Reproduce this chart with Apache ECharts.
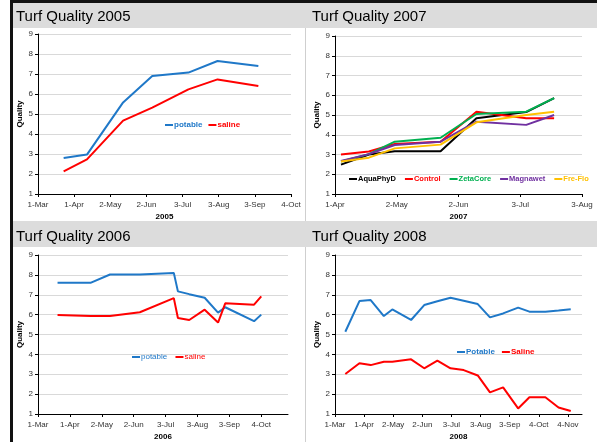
<!DOCTYPE html>
<html>
<head>
<meta charset="utf-8">
<script src="https://cdn.jsdelivr.net/npm/echarts@6/dist/echarts.min.js"></script>
<style>
html,body{margin:0;padding:0;background:#fff;}
#c{width:597px;height:442px;}
</style>
</head>
<body>
<div id="c"></div>
<script>
// ---------- data ----------
const ticks2005 = ['1-Mar','1-Apr','2-May','2-Jun','3-Jul','3-Aug','3-Sep','4-Oct'];
const dates2005 = ['2005-03-23','2005-04-12','2005-05-13','2005-06-07','2005-07-08','2005-08-02','2005-09-06'];
const potable2005 = [2.8, 2.97, 5.58, 6.9, 7.07, 7.65, 7.4];
const saline2005 = [2.13, 2.73, 4.67, 5.32, 6.23, 6.73, 6.4];

const ticks2007 = ['1-Apr','2-May','2-Jun','3-Jul','3-Aug'];
const dates2007 = ['2007-04-04','2007-04-18','2007-05-01','2007-05-24','2007-06-11','2007-07-06','2007-07-20'];
const aquaphyd2007 = [2.49, 3.0, 3.16, 3.16, 4.83, 5.15, 5.85];
const control2007 = [3.0, 3.15, 3.53, 3.65, 5.17, 4.83, 4.83];
const zetacore2007 = [2.65, 3.02, 3.65, 3.85, 5.05, 5.17, 5.85];
const magnawet2007 = [2.67, 3.02, 3.48, 3.65, 4.66, 4.5, 5.0];
const freflo2007 = [2.65, 2.84, 3.31, 3.5, 4.63, 5.0, 5.17];

const ticks2006 = ['1-Mar','1-Apr','2-May','2-Jun','3-Jul','3-Aug','3-Sep','4-Oct'];
const dates2006 = ['2006-03-20','2006-04-21','2006-05-10','2006-06-08','2006-07-11','2006-07-15','2006-07-26','2006-08-10','2006-08-23','2006-08-30','2006-09-27','2006-10-04'];
const potable2006 = [7.6, 7.6, 8.02, 8.02, 8.1, 7.17, 7.03, 6.85, 6.1, 6.37, 5.67, 6.0];
const saline2006 = [5.98, 5.93, 5.93, 6.12, 6.83, 5.83, 5.73, 6.25, 5.6, 6.57, 6.5, 6.92];

const ticks2008 = ['1-Mar','1-Apr','2-May','2-Jun','3-Jul','3-Aug','3-Sep','4-Oct','4-Nov'];
const dates2008 = ['2008-03-12','2008-03-27','2008-04-08','2008-04-22','2008-05-01','2008-05-21','2008-06-04','2008-06-18','2008-07-02','2008-07-16','2008-07-31','2008-08-13','2008-08-27','2008-09-12','2008-09-24','2008-10-11','2008-10-25','2008-11-07'];
const potable2008 = [5.14, 6.68, 6.73, 5.93, 6.26, 5.73, 6.48, 6.67, 6.85, 6.7, 6.53, 5.86, 6.06, 6.35, 6.15, 6.15, 6.21, 6.27];
const saline2008 = [3.01, 3.55, 3.46, 3.63, 3.63, 3.75, 3.3, 3.68, 3.3, 3.21, 2.94, 2.09, 2.34, 1.28, 1.84, 1.84, 1.33, 1.15];

// ---------- helpers ----------
const FONT = 'Liberation Sans, Arial, sans-serif';
const BLUE = '#1f78c8', RED = '#ff0000', GREEN = '#00b050', PURPLE = '#7030a0', YELLOW = '#ffc000', BLACK = '#000000';
const STEP = 31;
function dayOff(start, s) { return Math.round((Date.parse(s) - Date.parse(start)) / 864e5); }
function pts(start, dates, vals) { return dates.map((d, i) => [dayOff(start, d), vals[i]]); }

const starts = ['2005-03-01', '2007-04-01', '2006-03-01', '2008-03-01'];
const tickSets = [ticks2005, ticks2007, ticks2006, ticks2008];
const axisMax = [217, 124, 243, 263];
const axisNames = ['2005', '2007', '2006', '2008'];
const grids = [
  {left: 38, top: 34, width: 253, height: 160},
  {left: 335, top: 36, width: 247, height: 158},
  {left: 38, top: 255, width: 250, height: 160},
  {left: 335, top: 255, width: 247, height: 159}
];

const xAxes = tickSets.map((t, i) => {
  const vals = t.map((_, k) => k * STEP);
  return {
    type: 'value', gridIndex: i, min: 0, max: axisMax[i],
    name: axisNames[i], nameLocation: 'middle', nameGap: 19,
    nameTextStyle: {fontFamily: FONT, fontSize: 8, fontWeight: 'bold', color: '#000'},
    axisLine: {show: true, lineStyle: {color: '#000', width: 1}},
    axisTick: {show: true, length: 3, lineStyle: {color: '#000'}, customValues: vals},
    axisLabel: {fontFamily: FONT, fontSize: 8, color: '#333', margin: 7, customValues: vals,
      formatter: v => t[Math.round(v / STEP)] || ''},
    splitLine: {show: false}
  };
});
const yAxes = grids.map((g, i) => ({
  type: 'value', gridIndex: i, min: 1, max: 9, interval: 1,
  name: 'Quality', nameLocation: 'middle', nameGap: 14, nameRotate: 90,
  nameTextStyle: {fontFamily: FONT, fontSize: 8, fontWeight: 'bold', color: '#000'},
  axisLine: {show: true, lineStyle: {color: '#000', width: 1}},
  axisTick: {show: true, length: 3, lineStyle: {color: '#000'}},
  axisLabel: {fontFamily: FONT, fontSize: 8, color: '#333', margin: 5},
  splitLine: {show: true, lineStyle: {color: '#d9d9d9', width: 1}}
}));

function line(name, idx, data, color) {
  return {
    type: 'line', name, xAxisIndex: idx, yAxisIndex: idx, data,
    symbol: 'none', showSymbol: false, animation: false,
    lineStyle: {color, width: 2}, itemStyle: {color}
  };
}

const series = [
  line('potable', 0, pts(starts[0], dates2005, potable2005), BLUE),
  line('saline', 0, pts(starts[0], dates2005, saline2005), RED),
  line('AquaPhyD', 1, pts(starts[1], dates2007, aquaphyd2007), BLACK),
  line('Control', 1, pts(starts[1], dates2007, control2007), RED),
  line('ZetaCore', 1, pts(starts[1], dates2007, zetacore2007), GREEN),
  line('Magnawet', 1, pts(starts[1], dates2007, magnawet2007), PURPLE),
  line('Fre-Flo', 1, pts(starts[1], dates2007, freflo2007), YELLOW),
  line('potable ', 2, pts(starts[2], dates2006, potable2006), BLUE),
  line('saline ', 2, pts(starts[2], dates2006, saline2006), RED),
  line('Potable', 3, pts(starts[3], dates2008, potable2008), BLUE),
  line('Saline', 3, pts(starts[3], dates2008, saline2008), RED)
];

function legend(left, cy, items, gap, weight, size) {
  return {
    left, top: cy - 5, width: 400, orient: 'horizontal', padding: 0, itemGap: gap,
    icon: 'rect', itemWidth: 8, itemHeight: 2, selectedMode: false,
    textStyle: {fontFamily: FONT, fontSize: size, fontWeight: weight, padding: [0, 0, 0, -4]},
    data: items.map(([n, c]) => ({name: n, itemStyle: {color: c}, textStyle: {color: c}}))
  };
}

const legends = [
  legend(165, 126, [['potable', BLUE], ['saline', RED]], 6, 'bold', 8),
  legend(349, 180, [['AquaPhyD', BLACK], ['Control', RED], ['ZetaCore', GREEN], ['Magnawet', PURPLE], ['Fre-Flo', YELLOW]], 9, 'bold', 7.5),
  legend(132, 358, [['potable ', BLUE], ['saline ', RED]], 6, 'normal', 8),
  legend(457, 353, [['Potable', BLUE], ['Saline', RED]], 7, 'bold', 8)
];

function titleText(x, y, s) {
  return {type: 'text', left: x, top: y, z: 10,
    style: {text: s, fontFamily: FONT, fontSize: 15, fill: '#000'}};
}

const graphic = [
  {type: 'rect', shape: {x: 13, y: 3, width: 584, height: 25}, style: {fill: '#dcdcdc'}, z: -1},
  {type: 'rect', shape: {x: 13, y: 221, width: 584, height: 26}, style: {fill: '#dcdcdc'}, z: -1},
  {type: 'rect', shape: {x: 10, y: 0, width: 587, height: 3}, style: {fill: '#111'}, z: 5},
  {type: 'rect', shape: {x: 10, y: 0, width: 3, height: 442}, style: {fill: '#111'}, z: 5},
  {type: 'line', shape: {x1: 305.5, y1: 28, x2: 305.5, y2: 221}, style: {stroke: '#cfcfcf', lineWidth: 1}, z: -1},
  {type: 'line', shape: {x1: 305.5, y1: 247, x2: 305.5, y2: 442}, style: {stroke: '#cfcfcf', lineWidth: 1}, z: -1},
  titleText(16, 9, 'Turf Quality 2005'),
  titleText(312, 9, 'Turf Quality 2007'),
  titleText(16, 229, 'Turf Quality 2006'),
  titleText(312, 229, 'Turf Quality 2008')
];

const chart = echarts.init(document.getElementById('c'), null, {renderer: 'canvas'});
chart.setOption({
  animation: false,
  backgroundColor: '#ffffff',
  grid: grids,
  xAxis: xAxes,
  yAxis: yAxes,
  legend: legends,
  series,
  graphic
});
</script>
</body>
</html>
